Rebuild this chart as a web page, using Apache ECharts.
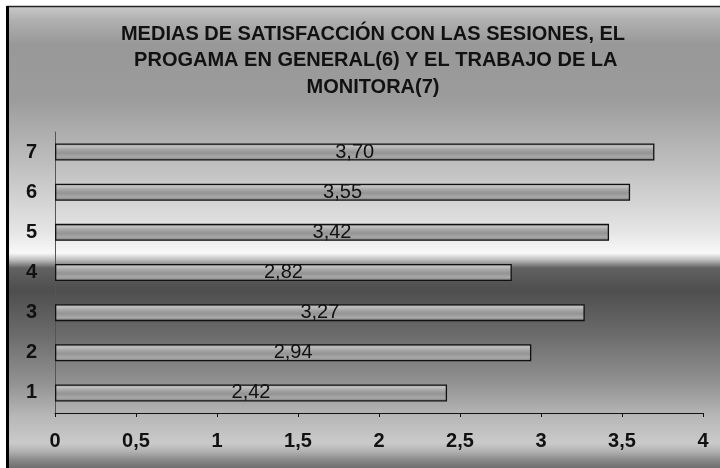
<!DOCTYPE html>
<html>
<head>
<meta charset="utf-8">
<script src="https://cdn.jsdelivr.net/npm/echarts@6/dist/echarts.min.js"></script>
<style>
html,body{margin:0;padding:0;background:#fff;}
#chart{width:720px;height:468px;}
</style>
</head>
<body>
<div id="chart"></div>
<script>
const titleLines = [
  'MEDIAS DE SATISFACCIÓN CON LAS SESIONES, EL',
  ' PROGAMA EN GENERAL(6) Y EL TRABAJO DE LA',
  'MONITORA(7)'
];
const categories = ['1', '2', '3', '4', '5', '6', '7'];
const values = [2.42, 2.94, 3.27, 2.82, 3.42, 3.55, 3.70];
const xTicks = [0, 0.5, 1, 1.5, 2, 2.5, 3, 3.5, 4];

const FONT = '"Liberation Sans", Arial, sans-serif';
const chart = echarts.init(document.getElementById('chart'), null, {renderer: 'canvas'});

const bg = new echarts.graphic.LinearGradient(0, 0, 0, 1, [
  {offset: 0.000, color: '#c8c8c8'},
  {offset: 0.028, color: '#b0b0b0'},
  {offset: 0.082, color: '#989898'},
  {offset: 0.200, color: '#9c9c9c'},
  {offset: 0.347, color: '#c0c0c0'},
  {offset: 0.490, color: '#e6e6e6'},
  {offset: 0.534, color: '#f8f8f8'},
  {offset: 0.549, color: '#bcbcbc'},
  {offset: 0.566, color: '#626262'},
  {offset: 0.614, color: '#4e4e4e'},
  {offset: 0.707, color: '#6a6a6a'},
  {offset: 0.816, color: '#929292'},
  {offset: 0.889, color: '#b8b8b8'},
  {offset: 0.946, color: '#cacaca'},
  {offset: 0.965, color: '#b0b0b0'},
  {offset: 0.983, color: '#888888'},
  {offset: 1.000, color: '#6e6e6e'}
]);

const barFill = new echarts.graphic.LinearGradient(0, 0, 0, 1, [
  {offset: 0.00, color: '#8a8a8a'},
  {offset: 0.15, color: '#c2c2c2'},
  {offset: 0.35, color: '#a6a6a6'},
  {offset: 0.55, color: '#949494'},
  {offset: 0.78, color: '#a8a8a8'},
  {offset: 1.00, color: '#7c7c7c'}
]);

const option = {
  backgroundColor: '#ffffff',
  animation: false,
  textStyle: {fontFamily: FONT},
  graphic: [
    {type: 'rect', z: -10, silent: true, shape: {x: 8, y: 7, width: 712, height: 461}, style: {fill: bg}},
    {type: 'line', z: -5, silent: true, shape: {x1: 7, y1: 6.5, x2: 720, y2: 6.5}, style: {stroke: '#222', lineWidth: 1.5}},
    {type: 'line', z: -5, silent: true, shape: {x1: 7.5, y1: 6, x2: 7.5, y2: 468}, style: {stroke: '#000', lineWidth: 3}}
  ],
  title: {
    text: titleLines.join('\n'),
    left: 373,
    top: 21,
    textAlign: 'center',
    padding: 0,
    textStyle: {fontFamily: FONT, fontSize: 20, fontWeight: 'bold', color: '#111', lineHeight: 26.5}
  },
  grid: {left: 55, right: 17, top: 132, bottom: 55, containLabel: false},
  xAxis: {
    type: 'value',
    min: xTicks[0],
    max: xTicks[xTicks.length - 1],
    interval: 0.5,
    axisLine: {show: true, lineStyle: {color: '#111', width: 1}},
    axisTick: {show: true, length: 4, lineStyle: {color: '#111'}},
    splitLine: {show: false},
    axisLabel: {
      margin: 18,
      fontFamily: FONT, fontSize: 20, fontWeight: 'bold', color: '#111',
      formatter: v => String(v).replace('.', ',')
    }
  },
  yAxis: {
    type: 'category',
    data: categories,
    axisLine: {show: true, lineStyle: {color: '#555', width: 1}},
    axisTick: {show: false},
    axisLabel: {margin: 18, fontFamily: FONT, fontSize: 20, fontWeight: 'bold', color: '#111'}
  },
  series: [{
    type: 'bar',
    data: values,
    barWidth: 17,
    itemStyle: {color: barFill, borderColor: '#111', borderWidth: 1.3},
    label: {
      show: true,
      position: 'inside',
      fontFamily: FONT, fontSize: 20, color: '#111', fontWeight: 'normal',
      formatter: p => p.value.toFixed(2).replace('.', ',')
    }
  }]
};
chart.setOption(option);
</script>
</body>
</html>
